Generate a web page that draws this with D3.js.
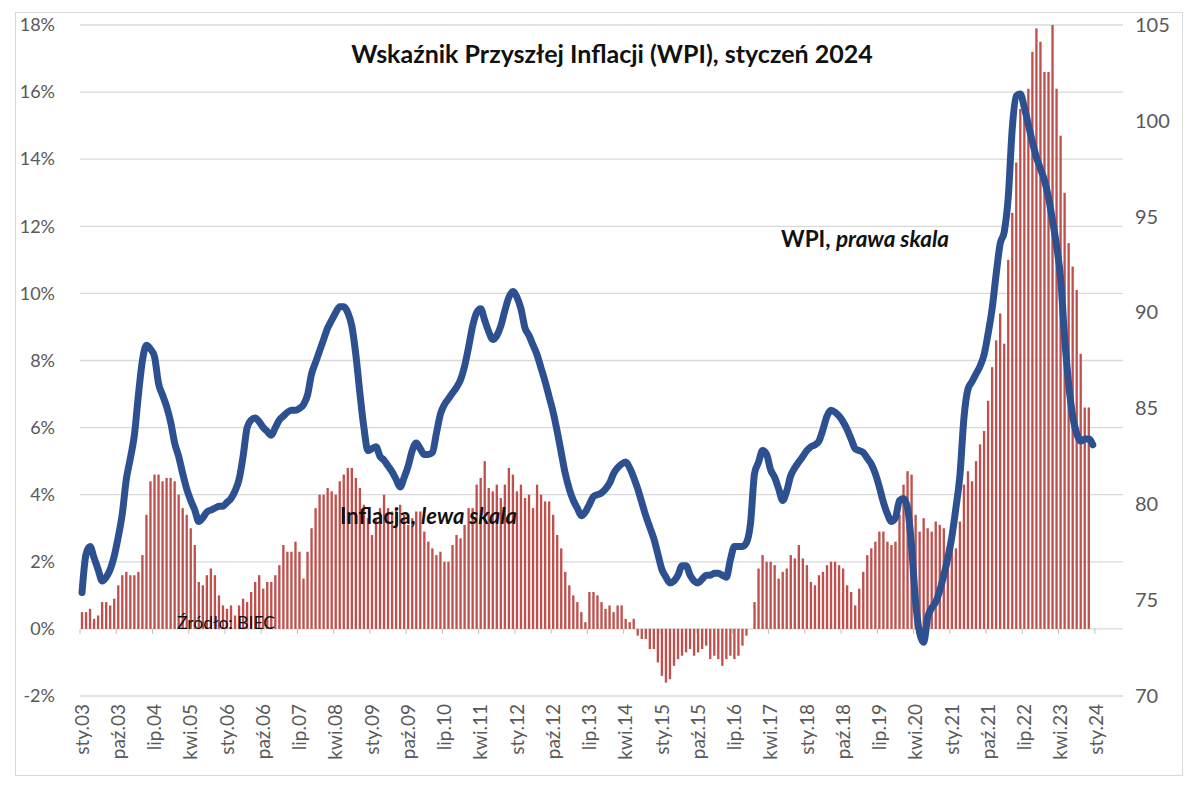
<!DOCTYPE html>
<html><head><meta charset="utf-8">
<script src="https://cdn.jsdelivr.net/npm/d3@7"></script>
<style>body{margin:0;background:#fff}svg{display:block}</style>
</head><body><svg id="chart" width="1200" height="788"></svg>
<script>
// ---------- DATA ----------
const monthNames = ["sty","lut","mar","kwi","maj","cze","lip","sie","wrz","paź","lis","gru"];
const startYear = 2003;
const axisMonths = 259; // sty.03 ... lip.24 on the category axis

// CPI inflation y/y, % (sty.03 ... lis.23) - left scale
const inflation = [
  0.5,0.5,0.6,0.3,0.4,0.8,0.8,0.7,0.9,1.3,1.6,1.7,
  1.6,1.6,1.7,2.2,3.4,4.4,4.6,4.6,4.4,4.5,4.5,4.4,
  4.0,3.6,3.4,3.0,2.5,1.4,1.3,1.6,1.8,1.6,1.0,0.7,
  0.6,0.7,0.4,0.7,0.9,0.8,1.1,1.4,1.6,1.2,1.4,1.4,
  1.6,1.9,2.5,2.3,2.3,2.6,2.3,1.5,2.3,3.0,3.6,4.0,
  4.0,4.2,4.1,4.0,4.4,4.6,4.8,4.8,4.5,4.2,3.7,3.3,
  2.8,3.3,3.6,4.0,3.6,3.5,3.6,3.7,3.4,3.1,3.3,3.5,
  3.5,2.9,2.6,2.4,2.2,2.3,2.0,2.0,2.5,2.8,2.7,3.1,
  3.6,3.6,4.3,4.5,5.0,4.2,4.1,4.3,3.9,4.3,4.8,4.6,
  4.1,4.3,3.9,4.0,3.6,4.3,4.0,3.8,3.8,3.4,2.8,2.4,
  1.7,1.3,1.0,0.8,0.5,0.2,1.1,1.1,1.0,0.8,0.6,0.7,
  0.5,0.7,0.7,0.3,0.2,0.3,-0.2,-0.3,-0.3,-0.6,-0.6,-1.0,
  -1.4,-1.6,-1.5,-1.1,-0.9,-0.8,-0.7,-0.6,-0.8,-0.7,-0.6,-0.5,
  -0.9,-0.8,-0.9,-1.1,-0.9,-0.8,-0.9,-0.8,-0.5,-0.2,0.0,0.8,
  1.8,2.2,2.0,2.0,1.9,1.5,1.7,1.8,2.2,2.1,2.5,2.1,
  1.9,1.4,1.3,1.6,1.7,1.9,2.0,2.0,1.9,1.8,1.3,1.1,
  0.7,1.2,1.7,2.2,2.4,2.6,2.9,2.9,2.6,2.5,2.6,3.4,
  4.3,4.7,4.6,3.4,2.9,3.3,3.0,2.9,3.2,3.1,3.0,2.4,
  2.6,2.4,3.2,4.3,4.7,4.4,5.0,5.5,5.9,6.8,7.8,8.6,
  9.4,8.5,11.0,12.4,13.9,15.5,15.6,16.1,17.2,17.9,17.5,16.6,
  16.6,18.4,16.1,14.7,13.0,11.5,10.8,10.1,8.2,6.6,6.6
];

// WPI index (sty.03 ... gru.23) - right scale
const wpi = [
  75.4,77.4,77.8,77.2,76.6,76.0,76.2,76.6,77.3,78.3,79.5,81.3,
  82.4,83.6,85.7,87.5,88.3,88.1,87.7,86.3,85.7,85.1,84.3,83.2,
  82.5,81.6,80.8,80.2,79.7,79.1,79.3,79.6,79.7,79.8,79.9,79.9,
  80.1,80.3,80.7,81.3,82.5,84.0,84.4,84.5,84.3,84.0,83.8,83.6,
  84.0,84.4,84.6,84.8,84.9,84.9,85.0,85.2,85.7,86.8,87.4,88.0,
  88.6,89.2,89.6,90.0,90.3,90.3,90.0,89.3,87.8,85.8,84.0,82.8,
  82.9,83.0,82.5,82.3,82.0,81.7,81.3,80.9,81.4,82.0,82.8,83.2,
  82.9,82.6,82.6,82.7,83.7,84.7,85.2,85.5,85.8,86.1,86.5,87.2,
  88.2,89.3,90.0,90.2,89.6,89.0,88.6,88.8,89.3,90.1,90.8,91.1,
  90.8,90.2,89.2,88.8,88.3,87.8,87.1,86.4,85.6,84.8,83.8,82.7,
  81.6,80.8,80.2,79.8,79.4,79.6,80.0,80.4,80.5,80.6,80.8,81.1,
  81.6,81.9,82.1,82.2,81.9,81.4,80.8,80.1,79.4,78.8,78.2,77.4,
  76.6,76.2,75.9,76.0,76.3,76.8,76.8,76.3,76.0,75.9,76.1,76.3,
  76.3,76.4,76.4,76.3,76.2,77.1,77.8,77.8,77.8,78.0,79.0,81.6,
  82.2,82.8,82.6,81.8,81.4,80.8,80.2,80.7,81.5,81.9,82.2,82.5,
  82.8,83.0,83.1,83.3,83.9,84.6,84.9,84.8,84.6,84.3,83.9,83.4,
  82.9,82.8,82.7,82.4,82.1,81.6,80.9,80.1,79.5,79.1,79.3,80.2,
  80.3,79.8,77.8,74.9,73.3,72.8,74.1,74.6,74.9,75.5,76.3,77.2,
  78.3,79.8,81.5,84.5,86.0,86.4,86.8,87.2,87.8,88.9,90.2,92.0,
  93.6,94.2,96.0,99.6,101.3,101.4,100.7,99.8,98.9,98.1,97.5,96.9,
  96.0,94.8,93.5,91.8,88.7,86.3,84.6,83.7,83.3,83.4,83.4,83.1
];

const xTickLabels = ["sty.03","paź.03","lip.04","kwi.05","sty.06","paź.06","lip.07","kwi.08",
  "sty.09","paź.09","lip.10","kwi.11","sty.12","paź.12","lip.13","kwi.14","sty.15","paź.15",
  "lip.16","kwi.17","sty.18","paź.18","lip.19","kwi.20","sty.21","paź.21","lip.22","kwi.23","sty.24"];
const leftTicks = [-2,0,2,4,6,8,10,12,14,16,18];
const rightTicks = [70,75,80,85,90,95,100,105];

const titleText = "Wskaźnik Przyszłej Inflacji (WPI), styczeń 2024";

// ---------- BUILD ----------
const categories = d3.range(axisMonths).map(i =>
  monthNames[i % 12] + "." + String((startYear + Math.floor(i / 12)) % 100).padStart(2, "0"));

const M = {left: 80, right: 1123, top: 25, bottom: 696};
const FONT = "Lato, 'Open Sans', sans-serif";

const svg = d3.select("#chart");

svg.append("rect").attr("x", 15.5).attr("y", 12.5).attr("width", 1167).attr("height", 763)
  .attr("fill", "#fff").attr("stroke", "#d9d9d9").attr("stroke-width", 1);

const x = d3.scaleBand().domain(categories).range([M.left, M.right])
  .paddingInner(0.42).paddingOuter(0.21);
const yL = d3.scaleLinear().domain([-2, 18]).range([M.bottom, M.top]);
const yR = d3.scaleLinear().domain([70, 105]).range([M.bottom, M.top]);

// gridlines
svg.append("g").selectAll("line").data(leftTicks).join("line")
  .attr("x1", M.left).attr("x2", M.right)
  .attr("y1", d => yL(d)).attr("y2", d => yL(d))
  .attr("stroke", "#d9d9d9").attr("stroke-width", 1.3);

svg.append("defs").append("clipPath").attr("id", "plotclip")
  .append("rect").attr("x", M.left - 10).attr("y", M.top).attr("width", M.right - M.left + 20)
  .attr("height", M.bottom - M.top);

// bars
svg.append("g").attr("clip-path", "url(#plotclip)").selectAll("rect").data(inflation).join("rect")
  .attr("x", (d, i) => x(categories[i]))
  .attr("width", x.bandwidth())
  .attr("y", d => yL(Math.max(0, d)))
  .attr("height", d => Math.abs(yL(d) - yL(0)))
  .attr("fill", "#C0504D");

// ticks on zero line (category boundaries)
const gap = (x.step() - x.bandwidth()) / 2;
svg.append("g").selectAll("line").data(xTickLabels).join("line")
  .attr("x1", d => x(d) - gap).attr("x2", d => x(d) - gap)
  .attr("y1", yL(0)).attr("y2", yL(0) + 5)
  .attr("stroke", "#bfbfbf").attr("stroke-width", 1);

// left axis
const gL = svg.append("g").attr("transform", `translate(${M.left},0)`)
  .call(d3.axisLeft(yL).tickValues(leftTicks).tickFormat(d => d + "%").tickSize(0).tickPadding(25));
gL.select(".domain").remove();
gL.selectAll("text").attr("font-family", FONT).attr("font-size", 18).attr("fill", "#595959");

// right axis
const gR = svg.append("g").attr("transform", `translate(${M.right},0)`)
  .call(d3.axisRight(yR).tickValues(rightTicks).tickSize(0).tickPadding(12));
gR.select(".domain").remove();
gR.selectAll("text").attr("font-family", FONT).attr("font-size", 20).attr("fill", "#595959");

// bottom axis labels
const gB = svg.append("g").attr("transform", `translate(0,${M.bottom})`)
  .call(d3.axisBottom(x).tickValues(xTickLabels).tickSize(0));
gB.select(".domain").remove();
gB.selectAll("text")
  .attr("font-family", FONT).attr("font-size", 19).attr("fill", "#595959")
  .attr("transform", "rotate(-90)").attr("x", -8).attr("y", 0).attr("dy", "0.35em")
  .style("text-anchor", "end");

// WPI line
const line = d3.line()
  .x((d, i) => x(categories[i]) + x.bandwidth() / 2)
  .y(d => yR(d))
  .curve(d3.curveMonotoneX);
svg.append("path").datum(wpi).attr("d", line)
  .attr("fill", "none").attr("stroke", "#2D5091").attr("stroke-width", 7)
  .attr("stroke-linejoin", "round").attr("stroke-linecap", "round");

// title
svg.append("text").attr("x", 612).attr("y", 63).attr("text-anchor", "middle")
  .attr("font-family", FONT).attr("font-size", 25).attr("font-weight", "bold").attr("fill", "#111")
  .text(titleText);

// annotations
function label(xp, yp, plain, ital, weight, size) {
  const t = svg.append("text").attr("x", xp).attr("y", yp)
    .attr("font-family", FONT).attr("font-size", size).attr("font-weight", weight).attr("fill", "#111");
  t.append("tspan").text(plain);
  if (ital) t.append("tspan").attr("font-style", "italic").text(ital);
}
label(781, 247, "WPI, ", "prawa skala", "bold", 22.5);
label(340, 524, "Inflacja, ", "lewa skala", "bold", 22);
label(177, 629, "Źródło: BIEC", null, "normal", 17.5);
</script></body></html>
